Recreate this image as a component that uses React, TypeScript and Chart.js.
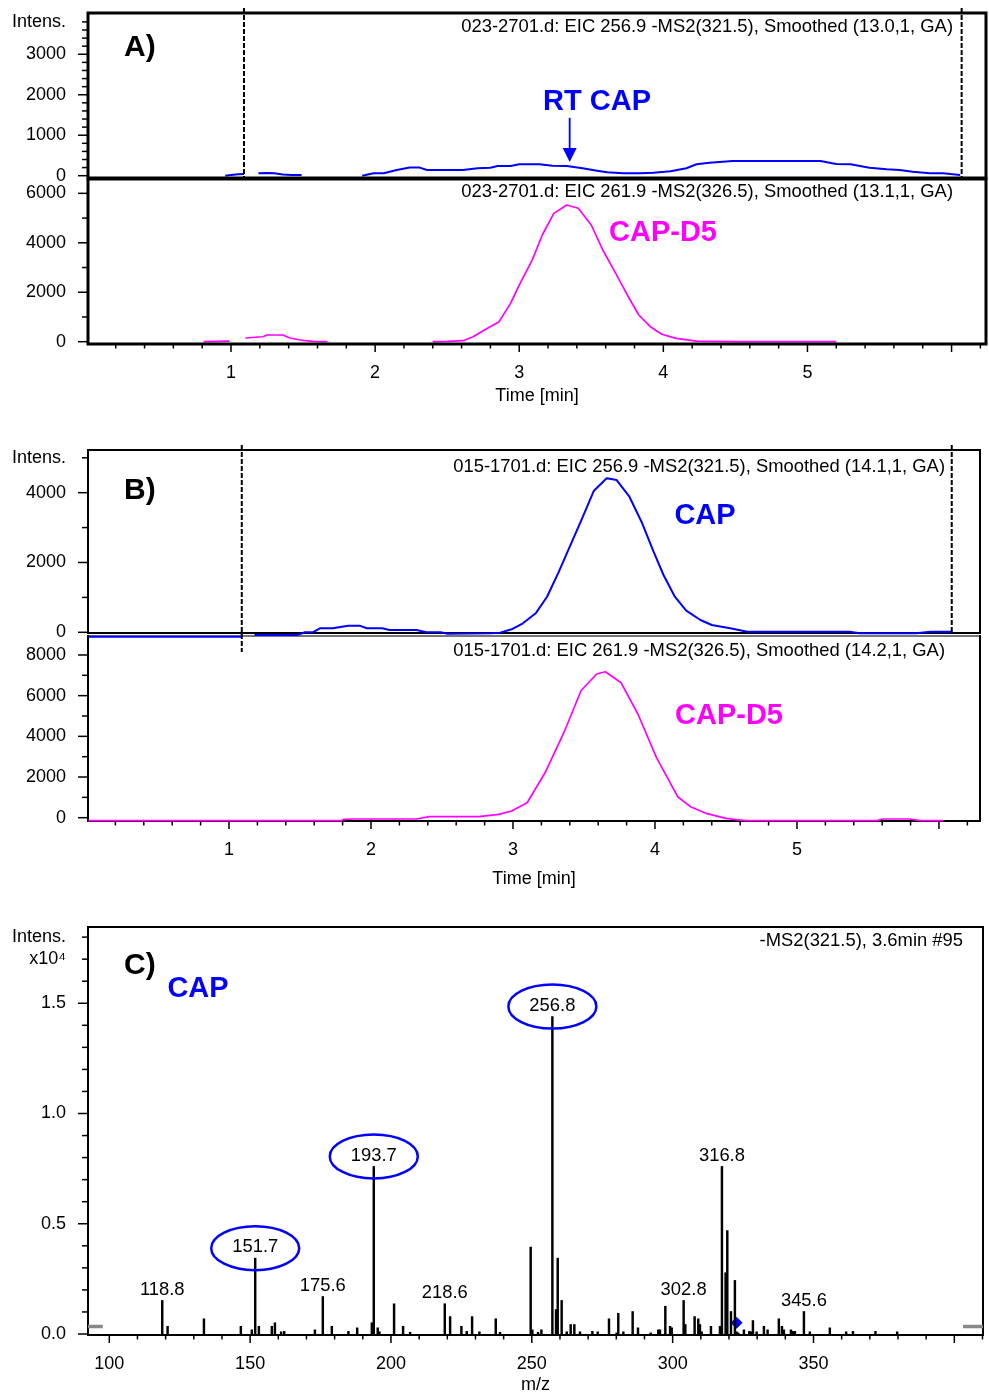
import React, { useEffect, useRef } from "react";
import { Chart, registerables } from "chart.js";

Chart.register(...registerables);

const FONT = "'Liberation Sans', Arial, Helvetica, sans-serif";
const BLUE = "#0000ff";
const MAGENTA = "#ff00ff";
const W = 989;

// ---------------- Panel A (sample 023-2701) ----------------
// EIC 256.9 -MS2(321.5) (CAP): [time (min), intensity]
const aCapTrace: [number, number | null][] = [
  [0.96, 0], [1.0, 20], [1.05, 35], [1.09, 40], [1.14, null],
  [1.19, 60], [1.25, 65], [1.3, 62], [1.36, 30], [1.42, 20], [1.49, 15], [1.7, null],
  [1.91, 0], [1.99, 60], [2.06, 60], [2.15, 140], [2.24, 200], [2.31, 200], [2.36, 140],
  [2.47, 140], [2.61, 140], [2.71, 183], [2.8, 198], [2.85, 240], [2.94, 240],
  [3.0, 282], [3.14, 282], [3.23, 247], [3.33, 240], [3.44, 183], [3.54, 124],
  [3.61, 84], [3.72, 60], [3.84, 60], [3.93, 70], [4.05, 110], [4.16, 183],
  [4.23, 282], [4.32, 321], [4.48, 363], [5.09, 363], [5.2, 289], [5.3, 282],
  [5.43, 198], [5.55, 158], [5.64, 140], [5.73, 99], [5.85, 60], [5.94, 60], [6.06, 17],
];
// EIC 261.9 -MS2(326.5) (CAP-D5)
const aD5Trace: [number, number | null][] = [
  [0.81, 0], [0.9, 10], [0.99, 20], [1.05, null],
  [1.1, 150], [1.22, 200], [1.25, 270], [1.36, 270], [1.41, 150], [1.5, 50], [1.57, 10], [1.67, 0], [2.0, null],
  [2.4, 0], [2.5, 10], [2.61, 40], [2.68, 200], [2.78, 540], [2.86, 810], [2.94, 1550],
  [3.0, 2290], [3.09, 3300], [3.16, 4315], [3.24, 5190], [3.33, 5530], [3.41, 5395],
  [3.5, 4720], [3.58, 3710], [3.67, 2766], [3.75, 1890], [3.83, 1080], [3.91, 607],
  [3.99, 300], [4.09, 137], [4.23, 20], [4.5, 0], [5.2, 0],
];
const aCapYTicks = [0, 1000, 2000, 3000, 3800];
const aCapYLabels = ["0", "1000", "2000", "3000", "Intens."];
const aD5YTicks = [0, 2000, 4000, 6000];
const aD5YLabels = ["0", "2000", "4000", "6000"];
const aMarkers = [1.09, 6.07];
const aRtCap = 3.35;

// ---------------- Panel B (sample 015-1701) ----------------
const bCapTrace: [number, number | null][] = [
  [0.01, -126], [1.09, -126], [1.13, null],
  [1.18, -77], [1.48, -77], [1.535, 0], [1.59, 0], [1.64, 115], [1.73, 115], [1.84, 190],
  [1.92, 190], [1.97, 115], [2.08, 115], [2.13, 66], [2.32, 66], [2.39, 0], [2.49, 0],
  [2.54, -40], [2.84, -30], [2.91, -10], [2.99, 86], [3.07, 258], [3.16, 544], [3.24, 1020],
  [3.32, 1708], [3.41, 2550], [3.49, 3295], [3.57, 4057], [3.66, 4412], [3.73, 4363],
  [3.82, 3885], [3.91, 3123], [3.99, 2309], [4.06, 1642], [4.14, 1020], [4.22, 619],
  [4.32, 352], [4.4, 209], [4.53, 115], [4.65, 17], [5.37, 17], [5.44, -30], [5.84, -30],
  [5.94, 17], [6.09, 17],
];
const bD5Trace: [number, number | null][] = [
  [0.01, -147], [1.79, -147], [1.81, -80], [1.87, -64], [2.32, -64], [2.41, 49], [2.76, 49],
  [2.9, 167], [2.99, 329], [3.1, 737], [3.23, 2261], [3.36, 4203], [3.48, 6252], [3.59, 7063],
  [3.65, 7176], [3.76, 6650], [3.88, 5097], [4.01, 2966], [4.16, 1032], [4.25, 541],
  [4.36, 216], [4.5, -30], [4.63, -147], [5.56, -147], [5.61, -64], [5.79, -64],
  [5.87, -147], [6.03, -147],
];
const bCapYTicks = [0, 2000, 4000, 5000];
const bCapYLabels = ["0", "2000", "4000", "Intens."];
const bD5YTicks = [0, 2000, 4000, 6000, 8000];
const bD5YLabels = ["0", "2000", "4000", "6000", "8000"];
const bMarkers = [1.09, 6.09];

const timeTicks = [1, 2, 3, 4, 5];
const timeLabels = ["1", "2", "3", "4", "5"];

// ---------------- Panel C: MS2 spectrum of 321.5 at 3.6 min ----------------
// [m/z, intensity x10^4]
const cPeaks: [number, number][] = [
  [118.8, 0.152], [120.7, 0.035], [133.6, 0.069], [146.7, 0.035], [150.6, 0.019],
  [151.8, 0.344], [153.1, 0.035], [157.7, 0.035], [158.8, 0.051], [161.0, 0.01],
  [162.1, 0.012], [173.0, 0.019], [175.8, 0.17], [179.0, 0.035], [184.9, 0.012],
  [188.0, 0.028], [193.2, 0.051], [193.9, 0.76], [195.3, 0.028], [195.9, 0.01],
  [201.1, 0.137], [204.3, 0.035], [206.8, 0.008], [219.1, 0.137], [221.0, 0.079],
  [225.0, 0.035], [226.9, 0.012], [228.8, 0.079], [231.4, 0.01], [237.2, 0.069],
  [238.7, 0.008], [249.6, 0.394], [250.2, 0.019], [252.2, 0.008], [253.4, 0.019],
  [257.3, 1.44], [258.6, 0.111], [259.2, 0.344], [260.6, 0.152], [262.4, 0.01],
  [263.8, 0.043], [265.1, 0.043], [267.1, 0.01], [271.5, 0.012], [273.4, 0.01],
  [277.4, 0.069], [280.1, 0.005], [280.7, 0.094], [282.5, 0.01], [285.8, 0.102],
  [287.7, 0.028], [292.2, 0.005], [294.9, 0.019], [295.5, 0.019], [297.4, 0.126],
  [299.1, 0.035], [299.7, 0.028], [303.9, 0.152], [304.5, 0.043], [307.8, 0.079],
  [309.1, 0.069], [309.7, 0.043], [310.3, 0.01], [313.6, 0.035], [316.8, 0.035],
  [317.5, 0.76], [318.8, 0.278], [319.4, 0.469], [320.7, 0.102], [322.1, 0.243],
  [322.7, 0.01], [323.3, 0.005], [325.3, 0.019], [327.2, 0.012], [327.8, 0.01],
  [328.5, 0.061], [329.8, 0.01], [332.4, 0.035], [333.7, 0.019], [337.7, 0.069],
  [338.8, 0.035], [339.5, 0.019], [342.0, 0.019], [342.8, 0.012], [343.4, 0.012],
  [346.6, 0.102], [348.7, 0.01], [355.8, 0.028], [361.6, 0.01], [364.0, 0.012],
  [372.0, 0.012], [379.7, 0.01],
];
const cLabelled = [118.8, 151.7, 175.6, 193.7, 218.6, 256.8, 302.8, 316.8, 345.6];
const cCircled = [151.7, 193.7, 256.8];
const cPrecursor: [number, number] = [322.7, 0.051];
const cMarkerLevel = 0.034;
const cMarkerLeft = [92.44, 97.7];
const cMarkerRight = [403.1, 410.18];
const cYTicks = [0, 0.5, 1.0, 1.5, 1.7, 1.8];
const cYLabels = ["0.0", "0.5", "1.0", "1.5", "x10\u2074", "Intens."];
const mzTicks = [100, 150, 200, 250, 300, 350];
const mzLabels = ["100", "150", "200", "250", "300", "350"];

// ---------------- helpers ----------------
type Area = { left: number; top: number; right: number; bottom: number };
type TextItem = {
  text: string; dx: number; dy: number; from: "left" | "right";
  align: CanvasTextAlign; font: string; color: string;
};
interface PanelSpec {
  type: "line" | "bar";
  canvasTop: number; canvasHeight: number; z?: number; area: Area;
  x: { min: number; max: number; ticks?: number[]; labels?: string[]; title?: string; height?: number; minor: number; major: number };
  y: { min: number; max: number; ticks: number[]; labels: string[]; minor: number; major: number; to: number };
  frameWidth: number; frameTopColor?: string; frameOnTop?: boolean;
  texts: TextItem[];
  dashed?: { at: number; up: number; down: number }[];
  arrow?: { at: number; from: number; to: number; color: string };
  datasets: any[];
  extra?: (chart: any) => void;
}

const isMult = (v: number, m: number) => Math.abs(v / m - Math.round(v / m)) < 1e-6;

function decorPlugin(s: PanelSpec) {
  const frame = (chart: any) => {
    const { ctx, chartArea: a } = chart;
    ctx.save();
    ctx.lineWidth = s.frameWidth;
    ctx.strokeStyle = "#000";
    ctx.lineJoin = "miter";
    ctx.strokeRect(a.left, a.top, a.right - a.left, a.bottom - a.top);
    if (s.frameTopColor) {
      ctx.strokeStyle = s.frameTopColor;
      ctx.beginPath();
      ctx.moveTo(a.left + s.frameWidth / 2, a.top);
      ctx.lineTo(a.right - s.frameWidth / 2, a.top);
      ctx.stroke();
    }
    ctx.restore();
  };
  const ticks = (chart: any) => {
    const { ctx, chartArea: a, scales } = chart;
    ctx.save();
    ctx.strokeStyle = "#000";
    ctx.lineWidth = 1.5;
    for (let k = 0; k * s.y.minor <= s.y.to + 1e-9; k++) {
      const v = k * s.y.minor;
      const py = scales.y.getPixelForValue(v);
      const len = isMult(v, s.y.major) ? 10 : 6;
      ctx.beginPath();
      ctx.moveTo(a.left - len, py);
      ctx.lineTo(a.left, py);
      ctx.stroke();
    }
    if (s.x.ticks) {
      const k0 = Math.ceil(s.x.min / s.x.minor - 1e-9);
      const k1 = Math.floor(s.x.max / s.x.minor + 1e-9);
      for (let k = k0; k <= k1; k++) {
        const v = k * s.x.minor;
        if (v - s.x.min < s.x.minor * 0.2) continue;
        const px = scales.x.getPixelForValue(v);
        const len = isMult(v, s.x.major) ? 8 : 4.5;
        ctx.beginPath();
        ctx.moveTo(px, a.bottom);
        ctx.lineTo(px, a.bottom + len);
        ctx.stroke();
      }
    }
    ctx.restore();
  };
  return {
    id: "decor",
    beforeDatasetsDraw(chart: any) {
      ticks(chart);
      if (!s.frameOnTop) frame(chart);
    },
    afterDatasetsDraw(chart: any) {
      const { ctx, chartArea: a, scales } = chart;
      if (s.frameOnTop) frame(chart);
      ctx.save();
      (s.dashed || []).forEach((d) => {
        const px = scales.x.getPixelForValue(d.at);
        ctx.strokeStyle = "#000";
        ctx.lineWidth = 2;
        ctx.setLineDash([5, 2]);
        ctx.beginPath();
        ctx.moveTo(px, a.top - d.up);
        ctx.lineTo(px, a.bottom + d.down);
        ctx.stroke();
      });
      ctx.setLineDash([]);
      if (s.arrow) {
        const px = scales.x.getPixelForValue(s.arrow.at);
        const y1 = scales.y.getPixelForValue(s.arrow.from);
        const y2 = scales.y.getPixelForValue(s.arrow.to);
        ctx.strokeStyle = s.arrow.color;
        ctx.fillStyle = s.arrow.color;
        ctx.lineWidth = 1.8;
        ctx.beginPath();
        ctx.moveTo(px, y1);
        ctx.lineTo(px, y2 - 12);
        ctx.stroke();
        ctx.beginPath();
        ctx.moveTo(px - 7, y2 - 14);
        ctx.lineTo(px + 7, y2 - 14);
        ctx.lineTo(px, y2);
        ctx.closePath();
        ctx.fill();
      }
      s.texts.forEach((t) => {
        ctx.font = t.font;
        ctx.fillStyle = t.color;
        ctx.textAlign = t.align;
        ctx.textBaseline = "middle";
        const x = t.from === "left" ? a.left + t.dx : a.right - t.dx;
        ctx.fillText(t.text, x, a.top + t.dy);
      });
      ctx.restore();
      if (s.extra) s.extra(chart);
    },
  };
}

function buildConfig(s: PanelSpec): any {
  const tickFont = { family: FONT, size: 18 };
  const hasX = !!s.x.ticks;
  const xH = hasX ? s.x.height || 0 : 0;
  return {
    type: s.type,
    data: { datasets: s.datasets },
    options: {
      animation: false,
      responsive: false,
      maintainAspectRatio: false,
      events: [],
      layout: {
        padding: {
          left: 0,
          top: s.area.top - s.canvasTop,
          right: W - s.area.right,
          bottom: s.canvasTop + s.canvasHeight - s.area.bottom - xH,
        },
      },
      plugins: { legend: { display: false }, tooltip: { enabled: false }, title: { display: false } },
      scales: {
        x: {
          type: "linear",
          min: s.x.min,
          max: s.x.max,
          display: hasX,
          offset: false,
          grid: { display: false, drawTicks: false },
          border: { display: false },
          afterBuildTicks: (sc: any) => {
            sc.ticks = (s.x.ticks || []).map((v) => ({ value: v }));
          },
          ticks: {
            font: tickFont, color: "#000", padding: 18, autoSkip: false,
            maxRotation: 0, minRotation: 0,
            callback: (_v: any, i: number) => (s.x.labels ? s.x.labels[i] : ""),
          },
          title: { display: !!s.x.title, text: s.x.title || "", font: tickFont, color: "#000", padding: 0 },
          afterFit: (sc: any) => {
            sc.height = xH;
            sc.paddingLeft = 0;
            sc.paddingRight = 0;
          },
        },
        y: {
          type: "linear",
          min: s.y.min,
          max: s.y.max,
          grid: { display: false, drawTicks: false },
          border: { display: false },
          afterBuildTicks: (sc: any) => {
            sc.ticks = s.y.ticks.map((v) => ({ value: v }));
          },
          ticks: {
            font: tickFont, color: "#000", padding: 22, autoSkip: false,
            callback: (_v: any, i: number) => s.y.labels[i],
          },
          afterFit: (sc: any) => {
            sc.width = s.area.left;
            sc.paddingTop = 0;
            sc.paddingBottom = 0;
          },
        },
      },
    },
    plugins: [decorPlugin(s)],
  };
}

const trace = (pts: [number, number | null][], color: string, width: number) => ({
  type: "line",
  data: pts.map(([x, y]) => ({ x, y })),
  borderColor: color,
  borderWidth: width,
  pointRadius: 0,
  tension: 0,
  spanGaps: false,
  clip: false,
  borderJoinStyle: "round",
});

const bold = (px: number) => `bold ${px}px ${FONT}`;
const reg = `18px ${FONT}`;
const titleFont = `18.4px ${FONT}`;

// ---------------- panel specs ----------------
const panels: PanelSpec[] = [
  {
    type: "line", canvasTop: 0, canvasHeight: 185, area: { left: 88, top: 13, right: 986, bottom: 178 },
    x: { min: 0.0076, max: 6.239, minor: 0.2, major: 1 },
    y: { min: -57, max: 4020, ticks: aCapYTicks, labels: aCapYLabels, minor: 200, major: 1000, to: 3800 },
    frameWidth: 3, frameOnTop: true,
    dashed: aMarkers.map((m) => ({ at: m, up: 5, down: -1 })),
    arrow: { at: aRtCap, from: 1430, to: 339, color: BLUE },
    texts: [
      { text: "023-2701.d: EIC 256.9 -MS2(321.5), Smoothed (13.0,1, GA)", dx: 33, dy: 14, from: "right", align: "right", font: titleFont, color: "#000" },
      { text: "A)", dx: 36, dy: 35, from: "left", align: "left", font: bold(30), color: "#000" },
      { text: "RT CAP", dx: 509, dy: 89, from: "left", align: "center", font: bold(29), color: BLUE },
    ],
    datasets: [trace(aCapTrace, BLUE, 2)],
  },
  {
    type: "line", canvasTop: 170, canvasHeight: 240, area: { left: 88, top: 179, right: 986, bottom: 344 },
    x: { min: 0.0076, max: 6.239, ticks: timeTicks, labels: timeLabels, title: "Time [min]", height: 63, minor: 0.2, major: 1 },
    y: { min: -93, max: 6580, ticks: aD5YTicks, labels: aD5YLabels, minor: 1000, major: 2000, to: 6000 },
    frameWidth: 3, frameOnTop: true,
    texts: [
      { text: "023-2701.d: EIC 261.9 -MS2(326.5), Smoothed (13.1,1, GA)", dx: 33, dy: 13, from: "right", align: "right", font: titleFont, color: "#000" },
      { text: "CAP-D5", dx: 575, dy: 54, from: "left", align: "center", font: bold(29), color: MAGENTA },
    ],
    datasets: [trace(aD5Trace, MAGENTA, 1.7)],
  },
  {
    type: "line", canvasTop: 615, canvasHeight: 280, area: { left: 88, top: 636, right: 980, bottom: 821 },
    x: { min: 0.007, max: 6.289, ticks: timeTicks, labels: timeLabels, title: "Time [min]", height: 69, minor: 0.2, major: 1 },
    y: { min: -162, max: 8933, ticks: bD5YTicks, labels: bD5YLabels, minor: 1000, major: 2000, to: 8000 },
    frameWidth: 2, frameTopColor: "#777",
    texts: [
      { text: "015-1701.d: EIC 261.9 -MS2(326.5), Smoothed (14.2,1, GA)", dx: 35, dy: 15, from: "right", align: "right", font: titleFont, color: "#000" },
      { text: "CAP-D5", dx: 641, dy: 80, from: "left", align: "center", font: bold(29), color: MAGENTA },
    ],
    datasets: [trace(bD5Trace, MAGENTA, 1.7)],
  },
  {
    type: "line", canvasTop: 430, canvasHeight: 230, z: 2, area: { left: 88, top: 450, right: 980, bottom: 633 },
    x: { min: 0.007, max: 6.289, minor: 0.2, major: 1 },
    y: { min: -20, max: 5223, ticks: bCapYTicks, labels: bCapYLabels, minor: 1000, major: 2000, to: 5000 },
    frameWidth: 2,
    dashed: [
      { at: bMarkers[0], up: 5, down: 19 },
      { at: bMarkers[1], up: 5, down: 0 },
    ],
    texts: [
      { text: "015-1701.d: EIC 256.9 -MS2(321.5), Smoothed (14.1,1, GA)", dx: 35, dy: 17, from: "right", align: "right", font: titleFont, color: "#000" },
      { text: "B)", dx: 36, dy: 41, from: "left", align: "left", font: bold(30), color: "#000" },
      { text: "CAP", dx: 617, dy: 66, from: "left", align: "center", font: bold(29), color: BLUE },
    ],
    datasets: [trace(bCapTrace, BLUE, 2)],
  },
  {
    type: "bar", canvasTop: 905, canvasHeight: 494, area: { left: 88, top: 927, right: 983, bottom: 1335 },
    x: { min: 92.44, max: 410.18, ticks: mzTicks, labels: mzLabels, title: "m/z", height: 61, minor: 10, major: 50 },
    y: { min: -0.0045, max: 1.8458, ticks: cYTicks, labels: cYLabels, minor: 0.1, major: 0.5, to: 1.8 },
    frameWidth: 2,
    texts: [
      { text: "-MS2(321.5), 3.6min #95", dx: 20, dy: 14, from: "right", align: "right", font: titleFont, color: "#000" },
      { text: "C)", dx: 36, dy: 39, from: "left", align: "left", font: bold(30), color: "#000" },
      { text: "CAP", dx: 110, dy: 62, from: "left", align: "center", font: bold(29), color: BLUE },
    ],
    datasets: [
      {
        type: "bar",
        data: cPeaks.map(([x, y]) => ({ x, y })),
        backgroundColor: "#000",
        borderWidth: 0,
        barThickness: 1.8,
        clip: false,
      },
      {
        type: "line",
        data: cMarkerLeft.map((x) => ({ x, y: cMarkerLevel })),
        borderColor: "#888", borderWidth: 3.5, pointRadius: 0, clip: false,
      },
      {
        type: "line",
        data: cMarkerRight.map((x) => ({ x, y: cMarkerLevel })),
        borderColor: "#888", borderWidth: 3.5, pointRadius: 0, clip: false,
      },
      {
        type: "scatter",
        data: [{ x: cPrecursor[0], y: cPrecursor[1] }],
        pointStyle: "rectRot", pointRadius: 6,
        backgroundColor: BLUE, borderColor: BLUE, borderWidth: 0, clip: false,
      },
    ],
    extra: (chart: any) => {
      const { ctx, scales } = chart;
      ctx.save();
      ctx.font = titleFont;
      ctx.textAlign = "center";
      ctx.textBaseline = "middle";
      cLabelled.forEach((L) => {
        let best: [number, number] | null = null;
        for (const p of cPeaks) {
          if (Math.abs(p[0] - L) <= 1.5 && (!best || p[1] > best[1])) best = p;
        }
        if (!best) return;
        const px = scales.x.getPixelForValue(best[0]);
        const py = scales.y.getPixelForValue(best[1]) - 11;
        ctx.fillStyle = "#000";
        ctx.fillText(L.toFixed(1), px, py);
        if (cCircled.includes(L)) {
          ctx.beginPath();
          ctx.ellipse(px, py + 1, 44, 22, 0, 0, Math.PI * 2);
          ctx.strokeStyle = BLUE;
          ctx.lineWidth = 2.5;
          ctx.stroke();
        }
      });
      ctx.restore();
    },
  },
];

function Panel({ spec }: { spec: PanelSpec }) {
  const ref = useRef<HTMLCanvasElement>(null);
  useEffect(() => {
    const chart = new Chart(ref.current as HTMLCanvasElement, buildConfig(spec));
    return () => chart.destroy();
  }, [spec]);
  return (
    <canvas
      ref={ref}
      width={W}
      height={spec.canvasHeight}
      style={{ position: "absolute", left: 0, top: spec.canvasTop, width: W, height: spec.canvasHeight, zIndex: spec.z || 1 }}
    />
  );
}

export default function App() {
  return (
    <div style={{ position: "absolute", left: 0, top: 0, width: W, height: 1399, background: "#fff", overflow: "hidden" }}>
      {panels.map((p, i) => (
        <Panel key={i} spec={p} />
      ))}
    </div>
  );
}
